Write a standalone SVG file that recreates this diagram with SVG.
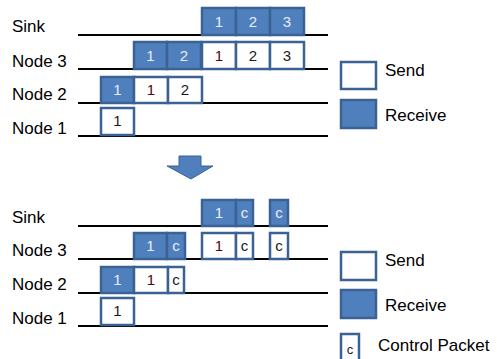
<svg xmlns="http://www.w3.org/2000/svg" width="497" height="359" viewBox="0 0 497 359">
<style>
.lbl{font-family:"Liberation Sans",Arial,sans-serif;font-size:17px;fill:#000}
.ln{stroke:#000;stroke-width:2}
.rx{fill:#4F7FBD;stroke:#3A6394;stroke-width:2.5}
.tx{fill:#fff;stroke:#3A6394;stroke-width:2.5}
.n{font-family:"Liberation Sans",Arial,sans-serif;font-size:15px;text-anchor:middle}
.nw{fill:#E8EEF8}
.nb{fill:#1a1a1a}
.nr{fill:#4a0c0c}
</style>
<rect width="497" height="359" fill="#fff"/>
<g id="lines">
<line class="ln" x1="78" y1="35" x2="328" y2="35"/>
<line class="ln" x1="78" y1="69" x2="328" y2="69"/>
<line class="ln" x1="78" y1="103" x2="328" y2="103"/>
<line class="ln" x1="78" y1="136" x2="328" y2="136"/>
<line class="ln" x1="78" y1="226" x2="328" y2="226"/>
<line class="ln" x1="78" y1="259" x2="328" y2="259"/>
<line class="ln" x1="78" y1="293" x2="328" y2="293"/>
<line class="ln" x1="78" y1="326" x2="328" y2="326"/>
</g>
<g id="labels-top">
<text class="lbl" x="12" y="32">Sink</text>
<text class="lbl" x="12" y="67">Node 3</text>
<text class="lbl" x="12" y="100">Node 2</text>
<text class="lbl" x="12" y="134">Node 1</text>
</g>
<g id="sink-top">
<rect class="rx" x="202" y="8" width="34" height="27"/><text class="n nw" x="219" y="27">1</text>
<rect class="rx" x="236" y="8" width="34" height="27"/><text class="n nw" x="253" y="27">2</text>
<rect class="rx" x="270" y="8" width="34" height="27"/><text class="n nw" x="287" y="27">3</text>
</g>
<g id="node3-top">
<rect class="rx" x="134" y="42" width="33" height="27"/><text class="n nw" x="150.5" y="61">1</text>
<rect class="rx" x="167" y="42" width="34" height="27"/><text class="n nw" x="184" y="61">2</text>
<rect class="tx" x="202" y="42" width="34" height="27"/><text class="n nr" x="219" y="61">1</text>
<rect class="tx" x="236" y="42" width="34" height="27"/><text class="n nb" x="253" y="61">2</text>
<rect class="tx" x="270" y="42" width="34" height="27"/><text class="n nb" x="287" y="61">3</text>
</g>
<g id="node2-top">
<rect class="rx" x="101" y="77" width="33" height="26"/><text class="n nw" x="117.5" y="95">1</text>
<rect class="tx" x="134" y="77" width="34" height="26"/><text class="n nr" x="151" y="95">1</text>
<rect class="tx" x="168" y="77" width="34" height="26"/><text class="n nb" x="185" y="95">2</text>
</g>
<g id="node1-top">
<rect class="tx" x="101" y="108" width="33" height="27"/><text class="n nb" x="117.5" y="126">1</text>
</g>
<g id="legend-top">
<rect class="tx" x="341" y="62" width="35" height="27"/>
<text class="lbl" x="385" y="76">Send</text>
<rect class="rx" x="341" y="100" width="35" height="28"/>
<text class="lbl" x="385" y="121">Receive</text>
</g>
<g id="arrow">
<polygon points="179,156 201,156 201,166 213,166 191,179 167,166 179,166" fill="#4F7FBD" stroke="#3A6394" stroke-width="1"/>
</g>
<g id="labels-bottom">
<text class="lbl" x="12" y="223">Sink</text>
<text class="lbl" x="12" y="256">Node 3</text>
<text class="lbl" x="12" y="290">Node 2</text>
<text class="lbl" x="12" y="324">Node 1</text>
</g>
<g id="sink-bottom">
<rect class="rx" x="202" y="200" width="34" height="26"/><text class="n nw" x="219" y="218">1</text>
<rect class="rx" x="236" y="200" width="17" height="26"/><text class="n nw" x="244.5" y="218">c</text>
<rect class="rx" x="270" y="200" width="18" height="26"/><text class="n nw" x="279" y="218">c</text>
</g>
<g id="node3-bottom">
<rect class="rx" x="134" y="233" width="33" height="26"/><text class="n nw" x="150.5" y="251">1</text>
<rect class="rx" x="167" y="233" width="18" height="26"/><text class="n nw" x="176" y="251">c</text>
<rect class="tx" x="202" y="233" width="34" height="26"/><text class="n nr" x="219" y="251">1</text>
<rect class="tx" x="236" y="233" width="17" height="26"/><text class="n nb" x="244.5" y="251">c</text>
<rect class="tx" x="270" y="233" width="18" height="26"/><text class="n nb" x="279" y="251">c</text>
</g>
<g id="node2-bottom">
<rect class="rx" x="101" y="267" width="33" height="26"/><text class="n nw" x="117.5" y="285">1</text>
<rect class="tx" x="134" y="267" width="34" height="26"/><text class="n nr" x="151" y="285">1</text>
<rect class="tx" x="168" y="267" width="16" height="26"/><text class="n nb" x="176" y="285">c</text>
</g>
<g id="node1-bottom">
<rect class="tx" x="101" y="298" width="33" height="27"/><text class="n nb" x="117.5" y="316">1</text>
</g>
<g id="legend-bottom">
<rect class="tx" x="341" y="252" width="35" height="28"/>
<text class="lbl" x="385" y="266">Send</text>
<rect class="rx" x="341" y="290" width="35" height="28"/>
<text class="lbl" x="385" y="311">Receive</text>
<rect class="tx" x="341" y="334" width="18" height="30"/>
<text class="n nb" x="350" y="354" style="font-size:13px">c</text>
<text class="lbl" x="378" y="351">Control Packet</text>
</g>
</svg>
